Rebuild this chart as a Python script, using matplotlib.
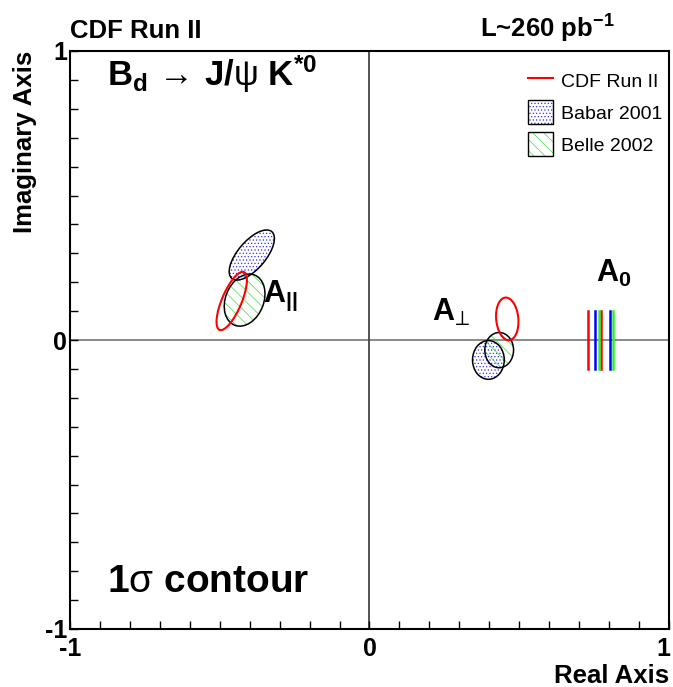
import matplotlib
matplotlib.use("Agg")
import matplotlib.pyplot as plt
import matplotlib.transforms as mtransforms
from matplotlib.patches import Ellipse, Patch
from matplotlib.lines import Line2D
from matplotlib.legend_handler import HandlerTuple
from matplotlib.ticker import MultipleLocator, FuncFormatter

plt.rcParams['font.family'] = ['Liberation Sans', 'DejaVu Sans']
plt.rcParams['mathtext.fontset'] = 'custom'
plt.rcParams['mathtext.rm'] = 'Liberation Sans'
plt.rcParams['mathtext.it'] = 'Liberation Sans'
plt.rcParams['mathtext.bf'] = 'Liberation Sans:bold'
plt.rcParams['mathtext.default'] = 'rm'
plt.rcParams['hatch.linewidth'] = 0.5

##### Data #####
# ellipses: centre x, centre y, full width, full height, angle (deg)
cdf_ellipses = [(-0.46, 0.135, 0.216, 0.066, 68), (0.46, 0.073, 0.148, 0.074, 95)]
babar_ellipses = [(-0.393, 0.294, 0.210, 0.094, 51), (0.397, -0.069, 0.106, 0.134, 0)]
belle_ellipses = [(-0.417, 0.138, 0.186, 0.128, 70), (0.433, -0.035, 0.096, 0.122, 0)]

# |A0| bands drawn as pairs of vertical lines
cdf_a0 = [0.730, 0.772]
babar_a0 = [0.752, 0.802]
belle_a0 = [0.767, 0.813]
a0_half = 0.1

fig = plt.figure(figsize=(6.73, 6.87), dpi=100)
ax = fig.add_axes([70 / 673, 58 / 687, 599 / 673, 578 / 687])
ax.set_xlim(-1, 1)
ax.set_ylim(-1, 1)

ax.axhline(0, color='#808080', lw=1.3, zorder=1)
ax.axvline(0, color='#444444', lw=1.3, zorder=1)


def add_ellipse(e, fill_col, hatch):
    cx, cy, w, h, ang = e
    ax.add_patch(Ellipse((cx, cy), w, h, angle=ang, facecolor='none',
                         edgecolor=fill_col, hatch=hatch, lw=0, zorder=2))
    ax.add_patch(Ellipse((cx, cy), w, h, angle=ang, facecolor='none',
                         edgecolor='black', lw=1.1, zorder=3))


for e in babar_ellipses:
    add_ellipse(e, '#3333ff', '.....')
for e in belle_ellipses:
    add_ellipse(e, '#44dd44', '\\\\\\')
for cx, cy, w, h, ang in cdf_ellipses:
    ax.add_patch(Ellipse((cx, cy), w, h, angle=ang, facecolor='none',
                         edgecolor='red', lw=1.5, zorder=4))

for xs, col in [(cdf_a0, 'red'), (babar_a0, 'blue'), (belle_a0, '#33ee33')]:
    for x in xs:
        ax.plot([x, x], [-a0_half, a0_half], color=col, lw=1.8, zorder=4)

# ticks every 0.1, labels only at -1, 0, 1
for axis in (ax.xaxis, ax.yaxis):
    axis.set_major_locator(MultipleLocator(0.1))
    axis.set_major_formatter(FuncFormatter(
        lambda v, p: '%d' % round(v) if abs(v - round(v)) < 1e-6 else ''))
ax.tick_params(direction='in', length=6, width=1, labelsize=18, pad=2)
ax.tick_params(axis='x', pad=6)
for lab in ax.get_xticklabels() + ax.get_yticklabels():
    lab.set_fontweight('bold')
for s in ax.spines.values():
    s.set_linewidth(1.5)

# keep the right-hand "1" inside the picture
shift = mtransforms.ScaledTranslation(-4 / 72, 0, fig.dpi_scale_trans)
for tk in ax.xaxis.get_major_ticks():
    if abs(tk.get_loc() - 1) < 1e-6:
        tk.label1.set_transform(tk.label1.get_transform() + shift)

ax.set_xlabel('Real Axis', loc='right', fontsize=18.5, fontweight='bold', labelpad=2)
ax.set_ylabel('Imaginary Axis', loc='top', fontsize=18.5, fontweight='bold', labelpad=6)

ax.text(-0.875, 0.879, r'B$_\mathbf{d}$$\,\rightarrow\,$J/$\psi$ K$^\mathbf{*0}$',
        fontsize=25, fontweight='bold')
ax.text(-0.875, -0.872, r'1$\sigma$ contour', fontsize=28, fontweight='bold')
ax.text(-0.357, 0.131, r'A$_\mathbf{||}$', fontsize=22, fontweight='bold')
ax.text(0.21, 0.066, r'A$_{\!\perp}$', fontsize=22, fontweight='bold')
ax.text(0.755, 0.20, r'A$_\mathbf{0}$', fontsize=22, fontweight='bold')

fig.text(70 / 673, 0.945, 'CDF Run II', fontsize=18.5, fontweight='bold')
fig.text(480 / 673, 0.945, r'L~260 pb$^\mathbf{-1}$', fontsize=18.5, fontweight='bold')

handles = [Line2D([], [], color='red', lw=1.5),
           (Patch(facecolor='none', edgecolor='#3333ff', hatch='.....', lw=0),
            Patch(facecolor='none', edgecolor='black', lw=1)),
           (Patch(facecolor='none', edgecolor='#44dd44', hatch='\\\\\\', lw=0),
            Patch(facecolor='none', edgecolor='black', lw=1))]
ax.legend(handles, ['CDF Run II', 'Babar 2001', 'Belle 2002'],
          handler_map={tuple: HandlerTuple(ndivide=1)},
          loc='upper left', bbox_to_anchor=(0.735, 1.0), frameon=False,
          fontsize=14, handlelength=1.3, handleheight=1.5, labelspacing=0.42,
          handletextpad=0.4)

fig.savefig('out.png', dpi=100)
